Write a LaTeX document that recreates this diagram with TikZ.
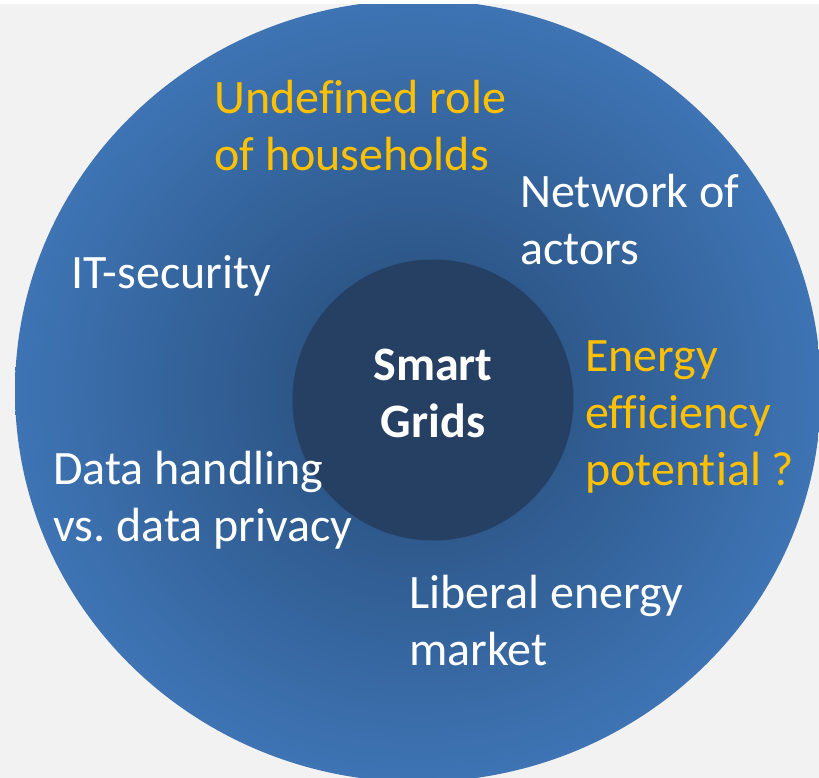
\documentclass[tikz,border=0pt]{standalone}
\usepackage{fontspec}
\setmainfont{Carlito}[Ligatures={TeX,NoCommon}]
\definecolor{bgc}{HTML}{F2F2F2}
\definecolor{outerlight}{HTML}{3E74B4}
\definecolor{outerdark}{HTML}{2D5789}
\definecolor{innerc}{HTML}{264063}
\definecolor{orangec}{HTML}{FFC000}
\pgfdeclareradialshading{ringshade}{\pgfpoint{0bp}{0bp}}{color(0bp)=(outerdark); color(8bp)=(outerdark); color(25bp)=(outerlight); color(50bp)=(outerlight)}
\begin{document}
\frenchspacing
\begin{tikzpicture}[x=0.75pt,y=-0.75pt,
  issue/.style={font=\fontsize{36}{42.75}\selectfont, text=white, align=left, anchor=base west, inner sep=0pt},
  hotissue/.style={issue, text=orangec},
  hubstyle/.style={circle, fill=innerc, draw=none, minimum size=210.75pt, inner sep=0pt},
  hubtextstyle/.style={font=\fontsize{36}{42.75}\selectfont\bfseries, text=white, align=center, anchor=base, inner sep=0pt}]
\useasboundingbox (0,0) rectangle (819,778);
\fill[white] (0,0) rectangle (819,778);
\fill[bgc] (0,4) rectangle (819,778);
\begin{scope}
  \clip (0,4) rectangle (819,778);
  \shade[shading=ringshade] (418,391) ellipse [x radius=403, y radius=391];
\end{scope}
\node[hubstyle] (hub) at (433,400) {};
% multi-line nodes: anchor at the baseline of the last line
\node[hubtextstyle] (hubtext) at (433,437) {Smart\\Grids};
\node[hotissue] (households) at (214,170) {Undefined role\\of households};
\node[issue] (actors) at (520,264) {Network of\\actors};
\node[issue] (itsec) at (71,288) {IT-security};
\node[hotissue] (efficiency) at (585,485) {Energy\\efficiency\\potential ?};
\node[issue] (data) at (53,541) {Data handling\\vs. data privacy};
\node[issue] (market) at (409,665) {Liberal energy\\market};
\end{tikzpicture}
\end{document}
